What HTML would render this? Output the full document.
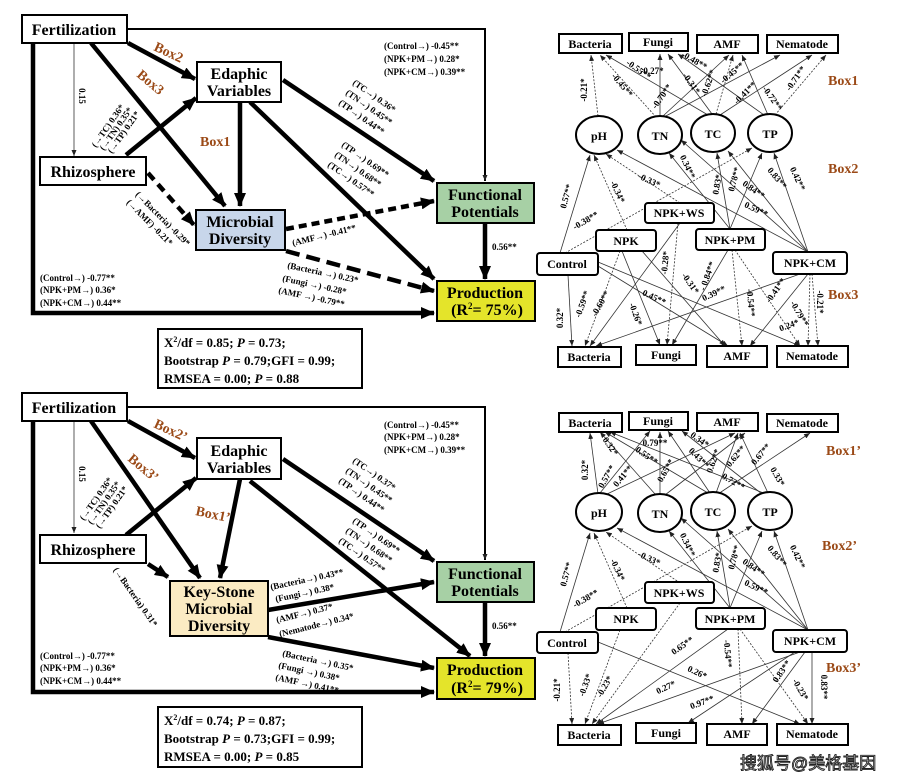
<!DOCTYPE html>
<html><head><meta charset="utf-8"><style>
html,body{margin:0;padding:0;background:#fff;}
svg{display:block;font-family:"Liberation Serif",serif;font-weight:bold;}
.b{fill:#fff;stroke:#000;stroke-width:2;}
.t{stroke:#000;stroke-width:4.5;fill:none;marker-end:url(#A);}
.s{stroke:#333;stroke-width:0.8;fill:none;marker-end:url(#a);}
.d{stroke:#333;stroke-width:0.8;fill:none;stroke-dasharray:2,1.5;marker-end:url(#a);}
.l{font-size:9px;text-anchor:middle;}
.L{font-size:9px;}
.bx{font-size:14px;fill:#9b4a17;}
.n{font-size:16px;text-anchor:middle;}
.m{font-size:12px;text-anchor:middle;}
</style></head><body>
<svg width="898" height="780" viewBox="0 0 898 780" xmlns="http://www.w3.org/2000/svg">
<defs>
<marker id="A" markerUnits="userSpaceOnUse" markerWidth="14" markerHeight="12" refX="13" refY="6" orient="auto"><path d="M0,0 L14,6 L0,12 z"/></marker>
<marker id="a" markerUnits="userSpaceOnUse" markerWidth="6" markerHeight="5" refX="6" refY="2.5" orient="auto"><path d="M0,0 L6,2.5 L0,5 z" fill="#222"/></marker>
</defs>

<!-- ===== TOP LEFT ===== -->
<g>
<path d="M127,29 H485 V181" stroke="#000" stroke-width="2" fill="none" marker-end="url(#a)"/>
<path d="M33,43 V313 H434" class="t"/>
<path d="M74,43 V156" class="s" stroke-width="1"/>
<path d="M128,43 L195,79" class="t"/>
<path d="M91,43 L225,206" class="t"/>
<path d="M126,155 L196,98" class="t"/>
<path d="M240,102 V206" class="t"/>
<path d="M283,80 L434,181" class="t"/>
<path d="M250,102 L434,279" class="t"/>
<path d="M148,173 L194,225" class="t" stroke-width="3" stroke-dasharray="9,6"/>
<path d="M286,229 L434,201" class="t" stroke-width="2" stroke-dasharray="8,5"/>
<path d="M286,251 L434,291" class="t" stroke-dasharray="14,7"/>
<path d="M485,223 V279" class="t"/>

<rect x="22" y="15" width="105" height="28" class="b"/><text x="74" y="35" class="n">Fertilization</text>
<rect x="197" y="62" width="84" height="40" class="b"/><text x="239" y="79" class="n">Edaphic</text><text x="239" y="96" class="n">Variables</text>
<rect x="40" y="157" width="106" height="28" class="b"/><text x="93" y="177" class="n">Rhizosphere</text>
<rect x="196" y="210" width="89" height="40" fill="#c8d6ea" stroke="#000" stroke-width="2"/><text x="240" y="227" class="n">Microbial</text><text x="240" y="244" class="n">Diversity</text>
<rect x="437" y="183" width="97" height="40" fill="#a7d0a5" stroke="#000" stroke-width="2"/><text x="485" y="200" class="n">Functional</text><text x="485" y="217" class="n">Potentials</text>
<rect x="437" y="281" width="98" height="40" fill="#e4e42a" stroke="#000" stroke-width="2"/><text x="485" y="298" class="n">Production</text><text x="487" y="315" class="n">(R<tspan font-size="9" dy="-6">2</tspan><tspan dy="6">= 75%)</tspan></text>
<rect x="158" y="329" width="204" height="59" class="b"/>
<text x="164" y="347" font-size="13">X<tspan font-size="8" dy="-5">2</tspan><tspan dy="5">/df = 0.85; </tspan><tspan font-style="italic">P</tspan> = 0.73;</text>
<text x="164" y="365" font-size="13">Bootstrap <tspan font-style="italic">P</tspan> = 0.79;GFI = 0.99;</text>
<text x="164" y="383" font-size="13">RMSEA = 0.00; <tspan font-style="italic">P</tspan> = 0.88</text>

<text class="bx" transform="translate(153,50) rotate(25)">Box2</text>
<text class="bx" transform="translate(136,76) rotate(40)">Box3</text>
<text class="bx" x="200" y="146">Box1</text>
<text class="l" transform="translate(79,96) rotate(90)" font-size="8">0.15</text>
<text class="L" transform="translate(96,148) rotate(-55)">(→TC) 0.36*</text>
<text class="L" transform="translate(104,151) rotate(-55)">(→TN) 0.35*</text>
<text class="L" transform="translate(112,154) rotate(-55)">(→TP) 0.21*</text>
<text class="L" x="384" y="49">(Control→) -0.45**</text>
<text class="L" x="384" y="62">(NPK+PM→) 0.28*</text>
<text class="L" x="384" y="75">(NPK+CM→) 0.39**</text>
<text class="L" transform="translate(352,84) rotate(35)">(TC→) 0.36*</text>
<text class="L" transform="translate(345,94) rotate(35)">(TN→) 0.45**</text>
<text class="L" transform="translate(338,104) rotate(35)">(TP→) 0.44**</text>
<text class="L" transform="translate(341,146) rotate(35)">(TP →) 0.69**</text>
<text class="L" transform="translate(334,156) rotate(35)">(TN→) 0.68**</text>
<text class="L" transform="translate(327,166) rotate(35)">(TC→) 0.57**</text>
<text class="L" transform="translate(135,195) rotate(45)">(→Bacteria) -0.29*</text>
<text class="L" transform="translate(126,203) rotate(45)">(→AMF) -0.21*</text>
<text class="L" transform="translate(293,246) rotate(-14)">(AMF→) -0.41**</text>
<text class="L" transform="translate(287,268) rotate(12)">(Bacteria →) 0.23*</text>
<text class="L" transform="translate(282,281) rotate(12)">(Fungi →) -0.28*</text>
<text class="L" transform="translate(278,293) rotate(12)">(AMF →) -0.79**</text>
<text class="L" x="40" y="281">(Control→) -0.77**</text>
<text class="L" x="40" y="293">(NPK+PM→) 0.36*</text>
<text class="L" x="40" y="306">(NPK+CM→) 0.44**</text>
<text class="L" x="492" y="250">0.56**</text>
</g>

<!-- ===== BOTTOM LEFT ===== -->
<g>
<path d="M127,407 H485 V560" stroke="#000" stroke-width="2" fill="none" marker-end="url(#a)"/>
<path d="M33,421 V692 H434" class="t"/>
<path d="M74,421 V533" class="s" stroke-width="1"/>
<path d="M128,421 L195,458" class="t"/>
<path d="M91,421 L200,578" class="t"/>
<path d="M126,535 L196,478" class="t"/>
<path d="M240,479 L220,578" class="t"/>
<path d="M283,459 L434,561" class="t"/>
<path d="M250,481 L470,656" class="t"/>
<path d="M148,564 L168,577" class="t" stroke-width="2.5"/>
<path d="M268,610 L434,582" class="t" stroke-width="3"/>
<path d="M268,637 L434,668" class="t" stroke-width="3"/>
<path d="M485,602 V656" class="t"/>

<rect x="22" y="393" width="105" height="28" class="b"/><text x="74" y="413" class="n">Fertilization</text>
<rect x="197" y="438" width="84" height="41" class="b"/><text x="239" y="456" class="n">Edaphic</text><text x="239" y="473" class="n">Variables</text>
<rect x="40" y="535" width="106" height="28" class="b"/><text x="93" y="555" class="n">Rhizosphere</text>
<rect x="170" y="581" width="98" height="55" fill="#fbebc3" stroke="#000" stroke-width="2"/><text x="219" y="597" class="n">Key-Stone</text><text x="219" y="614" class="n">Microbial</text><text x="219" y="631" class="n">Diversity</text>
<rect x="437" y="562" width="97" height="40" fill="#a7d0a5" stroke="#000" stroke-width="2"/><text x="485" y="579" class="n">Functional</text><text x="485" y="596" class="n">Potentials</text>
<rect x="437" y="658" width="98" height="41" fill="#e4e42a" stroke="#000" stroke-width="2"/><text x="485" y="675" class="n">Production</text><text x="487" y="693" class="n">(R<tspan font-size="9" dy="-6">2</tspan><tspan dy="6">= 79%)</tspan></text>
<rect x="158" y="707" width="204" height="60" class="b"/>
<text x="164" y="725" font-size="13">X<tspan font-size="8" dy="-5">2</tspan><tspan dy="5">/df = 0.74; </tspan><tspan font-style="italic">P</tspan> = 0.87;</text>
<text x="164" y="743" font-size="13">Bootstrap <tspan font-style="italic">P</tspan> = 0.73;GFI = 0.99;</text>
<text x="164" y="761" font-size="13">RMSEA = 0.00; <tspan font-style="italic">P</tspan> = 0.85</text>

<text class="bx" transform="translate(153,427) rotate(25)">Box2’</text>
<text class="bx" transform="translate(127,460) rotate(40)">Box3’</text>
<text class="bx" transform="translate(195,515) rotate(12)">Box1’</text>
<text class="l" transform="translate(79,474) rotate(90)" font-size="8">0.15</text>
<text class="L" transform="translate(84,521) rotate(-55)">(→TC) 0.36*</text>
<text class="L" transform="translate(92,525) rotate(-55)">(→TN) 0.35*</text>
<text class="L" transform="translate(100,529) rotate(-55)">(→TP) 0.21*</text>
<text class="L" x="384" y="428">(Control→) -0.45**</text>
<text class="L" x="384" y="440">(NPK+PM→) 0.28*</text>
<text class="L" x="384" y="453">(NPK+CM→) 0.39**</text>
<text class="L" transform="translate(352,462) rotate(35)">(TC→) 0.37*</text>
<text class="L" transform="translate(345,472) rotate(35)">(TN→) 0.45**</text>
<text class="L" transform="translate(338,482) rotate(35)">(TP→) 0.44**</text>
<text class="L" transform="translate(352,522) rotate(35)">(TP →) 0.69**</text>
<text class="L" transform="translate(345,532) rotate(35)">(TN→) 0.68**</text>
<text class="L" transform="translate(338,542) rotate(35)">(TC→) 0.57**</text>
<text class="L" transform="translate(113,570) rotate(55)">(→Bacteria) 0.31*</text>
<text class="L" transform="translate(271,590) rotate(-12)">(Bacteria→) 0.43**</text>
<text class="L" transform="translate(276,602) rotate(-12)">(Fungi→) 0.38*</text>
<text class="L" transform="translate(277,623) rotate(-14)">(AMF→) 0.37*</text>
<text class="L" transform="translate(280,637) rotate(-14)">(Nematode→) 0.34*</text>
<text class="L" transform="translate(282,656) rotate(12)">(Bacteria →) 0.35*</text>
<text class="L" transform="translate(278,668) rotate(12)">(Fungi →) 0.38*</text>
<text class="L" transform="translate(275,680) rotate(12)">(AMF →) 0.41**</text>
<text class="L" x="40" y="659">(Control→) -0.77**</text>
<text class="L" x="40" y="671">(NPK+PM→) 0.36*</text>
<text class="L" x="40" y="684">(NPK+CM→) 0.44**</text>
<text class="L" x="492" y="629">0.56**</text>
</g>

<!-- ===== TOP RIGHT ===== -->
<g>
<!-- Box1 -->
<path d="M598,116 L591,55" class="d"/>
<path d="M656,117 L600,55" class="d"/>
<path d="M660,116 L660,54" class="s"/>
<path d="M663,116 L729,55" class="s"/>
<path d="M708,115 L606,55" class="s"/>
<path d="M712,114 L668,54" class="s"/>
<path d="M716,114 L733,55" class="d"/>
<path d="M664,117 L780,55" class="s"/>
<path d="M720,115 L812,55" class="s"/>
<path d="M764,115 L678,54" class="s"/>
<path d="M768,115 L742,55" class="s"/>
<path d="M775,115 L826,55" class="d"/>
<!-- Box2 -->
<path d="M560,253 L590,155" class="s"/>
<path d="M565,253 L752,148" class="d"/>
<path d="M627,230 L594,155" class="d"/>
<path d="M680,203 L606,154" class="d"/>
<path d="M730,229 L669,153" class="s"/>
<path d="M730,229 L717,153" class="s"/>
<path d="M730,229 L762,153" class="s"/>
<path d="M808,252 L617,150" class="s"/>
<path d="M808,252 L681,140" class="s"/>
<path d="M808,252 L728,151" class="s"/>
<path d="M808,252 L774,153" class="s"/>
<!-- Box3 -->
<path d="M568,275 L572,346" class="s"/>
<path d="M598,266 L728,346" class="s"/>
<path d="M598,262 L800,346" class="s"/>
<path d="M620,251 L585,346" class="d"/>
<path d="M622,251 L660,345" class="s"/>
<path d="M642,251 L725,346" class="s"/>
<path d="M680,223 L590,346" class="s"/>
<path d="M678,223 L667,345" class="d"/>
<path d="M728,250 L672,345" class="s"/>
<path d="M732,250 L742,346" class="d"/>
<path d="M735,250 L800,346" class="d"/>
<path d="M800,274 L596,346" class="s"/>
<path d="M808,274 L750,346" class="s"/>
<path d="M810,274 L808,346" class="d"/>
<path d="M812,274 L818,346" class="d"/>

<rect x="559" y="34" width="63" height="19" class="b"/><text x="590" y="48" class="m">Bacteria</text>
<rect x="629" y="33" width="59" height="18" class="b"/><text x="658" y="46" class="m">Fungi</text>
<rect x="697" y="35" width="61" height="18" class="b"/><text x="727" y="48" class="m">AMF</text>
<rect x="767" y="35" width="71" height="18" class="b"/><text x="802" y="48" class="m">Nematode</text>
<ellipse cx="599" cy="135" rx="23" ry="19" class="b"/><text x="599" y="140" class="m" font-size="13">pH</text>
<ellipse cx="660" cy="135" rx="22" ry="19" class="b"/><text x="660" y="140" class="m" font-size="13">TN</text>
<ellipse cx="713" cy="133" rx="22" ry="19" class="b"/><text x="713" y="138" class="m" font-size="13">TC</text>
<ellipse cx="770" cy="133" rx="22" ry="19" class="b"/><text x="770" y="138" class="m" font-size="13">TP</text>
<rect x="645" y="203" width="69" height="20" rx="3" class="b"/><text x="679" y="217" class="m">NPK+WS</text>
<rect x="596" y="230" width="60" height="21" rx="3" class="b"/><text x="626" y="245" class="m">NPK</text>
<rect x="696" y="229" width="69" height="21" rx="3" class="b"/><text x="730" y="244" class="m">NPK+PM</text>
<rect x="537" y="253" width="61" height="22" rx="3" class="b"/><text x="567" y="268" class="m">Control</text>
<rect x="773" y="252" width="74" height="22" rx="3" class="b"/><text x="810" y="267" class="m">NPK+CM</text>
<rect x="558" y="347" width="63" height="20" class="b"/><text x="589" y="361" class="m">Bacteria</text>
<rect x="636" y="345" width="60" height="20" class="b"/><text x="666" y="359" class="m">Fungi</text>
<rect x="707" y="346" width="60" height="21" class="b"/><text x="737" y="360" class="m">AMF</text>
<rect x="777" y="346" width="71" height="21" class="b"/><text x="812" y="360" class="m">Nematode</text>

<text class="bx" x="828" y="85">Box1</text>
<text class="bx" x="828" y="173">Box2</text>
<text class="bx" x="828" y="299">Box3</text>

<text class="l" transform="translate(587,90) rotate(-90)">-0.21*</text>
<text class="l" transform="translate(620,87) rotate(50)">-0.45**</text>
<text class="l" x="652" y="74">-0.27*</text>
<text class="l" transform="translate(664,98) rotate(-55)">-0.70**</text>
<text class="l" transform="translate(637,72) rotate(35)">-0.55**</text>
<text class="l" transform="translate(689,85) rotate(55)">-0.31*</text>
<text class="l" transform="translate(711,84) rotate(-70)">-0.62**</text>
<text class="l" transform="translate(734,75) rotate(-40)">-0.45**</text>
<text class="l" transform="translate(693,63) rotate(30)">-0.48**</text>
<text class="l" transform="translate(747,95) rotate(-45)">-0.41**</text>
<text class="l" transform="translate(770,100) rotate(55)">-0.72**</text>
<text class="l" transform="translate(798,80) rotate(-55)">-0.71**</text>
<text class="l" transform="translate(569,197) rotate(-75)">0.57**</text>
<text class="l" transform="translate(587,223) rotate(-30)">-0.38**</text>
<text class="l" transform="translate(615,193) rotate(65)">-0.34*</text>
<text class="l" transform="translate(648,183) rotate(25)">-0.33*</text>
<text class="l" transform="translate(685,168) rotate(65)">0.34**</text>
<text class="l" transform="translate(720,185) rotate(-80)">0.83*</text>
<text class="l" transform="translate(737,180) rotate(-75)">0.78**</text>
<text class="l" transform="translate(752,192) rotate(35)">0.84**</text>
<text class="l" transform="translate(775,180) rotate(50)">0.83**</text>
<text class="l" transform="translate(795,180) rotate(65)">0.42**</text>
<text class="l" transform="translate(755,212) rotate(25)">0.59**</text>
<text class="l" transform="translate(563,318) rotate(-90)">0.32*</text>
<text class="l" transform="translate(585,305) rotate(-70)">-0.59**</text>
<text class="l" transform="translate(603,305) rotate(-60)">-0.60**</text>
<text class="l" transform="translate(633,315) rotate(70)">-0.26*</text>
<text class="l" transform="translate(653,300) rotate(25)">0.45**</text>
<text class="l" transform="translate(668,263) rotate(-85)">-0.28*</text>
<text class="l" transform="translate(688,285) rotate(55)">-0.31*</text>
<text class="l" transform="translate(710,277) rotate(-70)">- 0.84**</text>
<text class="l" transform="translate(715,296) rotate(-25)">0.39**</text>
<text class="l" transform="translate(748,303) rotate(85)">-0.54**</text>
<text class="l" transform="translate(778,292) rotate(-55)">-0.41**</text>
<text class="l" transform="translate(797,315) rotate(60)">-0.79**</text>
<text class="l" transform="translate(790,328) rotate(-20)">0.24*</text>
<text class="l" transform="translate(817,302) rotate(90)">-0.21*</text>
</g>

<!-- ===== BOTTOM RIGHT ===== -->
<g>
<!-- Box1' -->
<path d="M598,494 L590,433" class="s"/>
<path d="M600,493 L650,431" class="s"/>
<path d="M605,495 L735,433" class="s"/>
<path d="M655,494 L600,432" class="s"/>
<path d="M660,494 L660,432" class="s"/>
<path d="M665,495 L745,433" class="s"/>
<path d="M708,493 L605,432" class="s"/>
<path d="M710,493 L668,431" class="s"/>
<path d="M716,493 L738,433" class="s"/>
<path d="M718,494 L810,433" class="s"/>
<path d="M762,494 L682,431" class="s"/>
<path d="M768,493 L740,433" class="s"/>
<path d="M766,494 L610,432" class="s"/>
<!-- Box2' -->
<path d="M560,632 L590,533" class="s"/>
<path d="M565,632 L752,526" class="d"/>
<path d="M627,608 L594,533" class="d"/>
<path d="M680,583 L606,532" class="d"/>
<path d="M730,608 L669,531" class="s"/>
<path d="M730,608 L717,531" class="s"/>
<path d="M730,608 L762,531" class="s"/>
<path d="M808,630 L617,528" class="s"/>
<path d="M808,630 L681,518" class="s"/>
<path d="M808,630 L728,529" class="s"/>
<path d="M808,630 L774,531" class="s"/>
<!-- Box3' -->
<path d="M568,653 L572,724" class="d"/>
<path d="M620,630 L585,724" class="d"/>
<path d="M680,603 L592,724" class="d"/>
<path d="M598,642 L800,724" class="s"/>
<path d="M728,629 L596,724" class="s"/>
<path d="M738,629 L742,724" class="d"/>
<path d="M740,629 L808,724" class="d"/>
<path d="M800,652 L598,724" class="s"/>
<path d="M795,652 L688,723" class="s"/>
<path d="M805,652 L752,724" class="s"/>
<path d="M812,652 L812,724" class="s"/>

<rect x="559" y="413" width="63" height="19" class="b"/><text x="590" y="427" class="m">Bacteria</text>
<rect x="629" y="412" width="59" height="18" class="b"/><text x="658" y="425" class="m">Fungi</text>
<rect x="697" y="413" width="61" height="18" class="b"/><text x="727" y="426" class="m">AMF</text>
<rect x="767" y="414" width="71" height="18" class="b"/><text x="802" y="427" class="m">Nematode</text>
<ellipse cx="599" cy="512" rx="23" ry="19" class="b"/><text x="599" y="517" class="m" font-size="13">pH</text>
<ellipse cx="660" cy="513" rx="22" ry="19" class="b"/><text x="660" y="518" class="m" font-size="13">TN</text>
<ellipse cx="713" cy="511" rx="22" ry="19" class="b"/><text x="713" y="516" class="m" font-size="13">TC</text>
<ellipse cx="770" cy="511" rx="22" ry="19" class="b"/><text x="770" y="516" class="m" font-size="13">TP</text>
<rect x="645" y="582" width="69" height="21" rx="3" class="b"/><text x="679" y="597" class="m">NPK+WS</text>
<rect x="596" y="608" width="60" height="22" rx="3" class="b"/><text x="626" y="623" class="m">NPK</text>
<rect x="696" y="608" width="69" height="21" rx="3" class="b"/><text x="730" y="623" class="m">NPK+PM</text>
<rect x="537" y="632" width="61" height="21" rx="3" class="b"/><text x="567" y="647" class="m">Control</text>
<rect x="773" y="630" width="74" height="22" rx="3" class="b"/><text x="810" y="645" class="m">NPK+CM</text>
<rect x="558" y="725" width="63" height="20" class="b"/><text x="589" y="739" class="m">Bacteria</text>
<rect x="636" y="723" width="60" height="20" class="b"/><text x="666" y="737" class="m">Fungi</text>
<rect x="707" y="724" width="60" height="21" class="b"/><text x="737" y="738" class="m">AMF</text>
<rect x="777" y="724" width="71" height="21" class="b"/><text x="812" y="738" class="m">Nematode</text>

<text class="bx" x="826" y="455">Box1’</text>
<text class="bx" x="822" y="550">Box2’</text>
<text class="bx" x="826" y="672">Box3’</text>

<text class="l" transform="translate(588,470) rotate(-90)">0.32*</text>
<text class="l" transform="translate(608,448) rotate(55)">0.32*</text>
<text class="l" transform="translate(609,478) rotate(-60)">0.57**</text>
<text class="l" transform="translate(625,478) rotate(-50)">0.41**</text>
<text class="l" transform="translate(645,458) rotate(35)">0.55**</text>
<text class="l" x="655" y="446">0.79**</text>
<text class="l" transform="translate(668,472) rotate(-60)">0.65**</text>
<text class="l" transform="translate(698,442) rotate(35)">0.34*</text>
<text class="l" transform="translate(697,460) rotate(45)">0.43**</text>
<text class="l" transform="translate(716,462) rotate(-70)">0.62**</text>
<text class="l" transform="translate(732,484) rotate(30)">0.72**</text>
<text class="l" transform="translate(738,458) rotate(-50)">0.62**</text>
<text class="l" transform="translate(763,456) rotate(-50)">0.67**</text>
<text class="l" transform="translate(775,478) rotate(60)">0.33*</text>
<text class="l" transform="translate(569,575) rotate(-75)">0.57**</text>
<text class="l" transform="translate(587,601) rotate(-30)">-0.38**</text>
<text class="l" transform="translate(615,571) rotate(65)">-0.34*</text>
<text class="l" transform="translate(648,561) rotate(25)">-0.33*</text>
<text class="l" transform="translate(685,546) rotate(65)">0.34**</text>
<text class="l" transform="translate(720,563) rotate(-80)">0.83*</text>
<text class="l" transform="translate(737,558) rotate(-75)">0.78**</text>
<text class="l" transform="translate(752,570) rotate(35)">0.84**</text>
<text class="l" transform="translate(775,558) rotate(50)">0.83**</text>
<text class="l" transform="translate(795,558) rotate(65)">0.42**</text>
<text class="l" transform="translate(755,590) rotate(25)">0.59**</text>
<text class="l" transform="translate(560,690) rotate(-90)">-0.21*</text>
<text class="l" transform="translate(588,686) rotate(-70)">-0.33*</text>
<text class="l" transform="translate(607,688) rotate(-60)">-0.23*</text>
<text class="l" transform="translate(684,648) rotate(-35)">0.65**</text>
<text class="l" transform="translate(696,675) rotate(25)">0.26*</text>
<text class="l" transform="translate(667,690) rotate(-25)">0.27*</text>
<text class="l" transform="translate(703,705) rotate(-20)">0.97**</text>
<text class="l" transform="translate(725,654) rotate(85)">-0.54**</text>
<text class="l" transform="translate(784,673) rotate(-55)">0.83**</text>
<text class="l" transform="translate(798,691) rotate(60)">-0.23*</text>
<text class="l" transform="translate(821,687) rotate(90)">0.83**</text>
</g>

<text x="740" y="769" font-family="'Liberation Sans','Noto Sans CJK SC',sans-serif" font-size="17" font-weight="normal" fill="#fff" stroke="#222" stroke-width="0.9">搜狐号@美格基因</text>
</svg>
</body></html>
